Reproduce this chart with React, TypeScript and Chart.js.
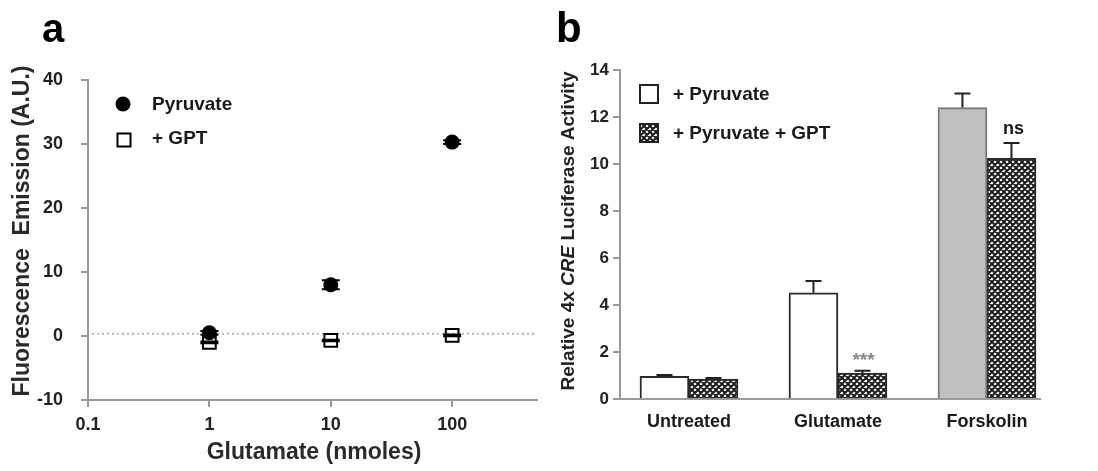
import React, { useEffect, useRef } from 'react';
import { Chart, registerables } from 'chart.js';
Chart.register(...registerables);

// ---------- Panel a data ----------
const dosesA = [1, 10, 100];
const pyruvateA = [0.5, 8.0, 30.3];
const pyruvateAErr = [0.3, 0.7, 0.3];
const gptA = [-1.0, -0.7, 0.1];
const gptAErr = [0.15, 0.12, 0.15];
const xTicksA = [0.1, 1, 10, 100];
const yTicksA = [-10, 0, 10, 20, 30, 40];
const baselineA = [0.35];

// ---------- Panel b data ----------
const categoriesB = ['Untreated', 'Glutamate', 'Forskolin'];
const pyruvateB = [0.97, 4.52, 12.4];
const pyruvateBErr = [0.05, 0.5, 0.6];
const gptB = [0.85, 1.1, 10.24];
const gptBErr = [0.04, 0.1, 0.65];
const significanceB = ['', '***', 'ns'];
const yTicksB = [0, 2, 4, 6, 8, 10, 12, 14];

const FONT = '"Liberation Sans", Arial, Helvetica, sans-serif';
const AXIS = '#9a9a9a';
const TEXT = '#1a1a1a';

const W = 1098;
const H = 471;
const A_W = 548;
const B_LEFT = 548;
const B_W = W - B_LEFT;

function makeHatch(): CanvasPattern | string {
  const c = document.createElement('canvas');
  c.width = 6;
  c.height = 6;
  const g = c.getContext('2d');
  if (!g) return '#555';
  g.fillStyle = '#ffffff';
  g.fillRect(0, 0, 6, 6);
  g.strokeStyle = '#1e1e1e';
  g.lineWidth = 2.0;
  g.beginPath();
  for (const k of [-6, 0, 6]) {
    g.moveTo(k, 0);
    g.lineTo(k + 6, 6);
    g.moveTo(k + 6, 0);
    g.lineTo(k, 6);
  }
  g.stroke();
  const p = g.createPattern(c, 'repeat');
  return p || '#555';
}

export default function App() {
  const refA = useRef<HTMLCanvasElement | null>(null);
  const refB = useRef<HTMLCanvasElement | null>(null);

  useEffect(() => {
    const hatch = makeHatch();

    // ---------------- Panel a ----------------
    const decorA = {
      id: 'decorA',
      beforeDatasetsDraw(chart: any) {
        const ctx = chart.ctx;
        const y = chart.scales.y;
        const yy = y.getPixelForValue(baselineA[0]);
        ctx.save();
        ctx.strokeStyle = '#b5b5b5';
        ctx.lineWidth = 2;
        ctx.setLineDash([2, 3]);
        ctx.beginPath();
        ctx.moveTo(chart.chartArea.left + 4, yy);
        ctx.lineTo(chart.chartArea.right, yy);
        ctx.stroke();
        ctx.restore();
      },
      afterDatasetsDraw(chart: any) {
        const ctx = chart.ctx;
        const x = chart.scales.x;
        const y = chart.scales.y;
        const drawErr = (vals: number[], errs: number[], color: string) => {
          vals.forEach((v, i) => {
            const px = x.getPixelForValue(dosesA[i]);
            const top = y.getPixelForValue(v + errs[i]);
            const bot = y.getPixelForValue(v - errs[i]);
            ctx.save();
            ctx.strokeStyle = color;
            ctx.lineWidth = 2;
            ctx.beginPath();
            ctx.moveTo(px, top);
            ctx.lineTo(px, bot);
            ctx.moveTo(px - 9, top);
            ctx.lineTo(px + 9, top);
            ctx.moveTo(px - 9, bot);
            ctx.lineTo(px + 9, bot);
            ctx.stroke();
            ctx.restore();
          });
        };
        drawErr(pyruvateA, pyruvateAErr, '#000');
        drawErr(gptA, gptAErr, '#000');
      },
      afterDraw(chart: any) {
        const ctx = chart.ctx;
        ctx.save();
        ctx.fillStyle = '#000';
        ctx.font = `bold 40px ${FONT}`;
        ctx.textBaseline = 'alphabetic';
        ctx.textAlign = 'left';
        ctx.fillText('a', 42, 42);
        // legend
        ctx.beginPath();
        ctx.arc(123, 104, 7.5, 0, Math.PI * 2);
        ctx.fillStyle = '#000';
        ctx.fill();
        ctx.fillStyle = '#fff';
        ctx.strokeStyle = '#000';
        ctx.lineWidth = 2;
        ctx.fillRect(117.5, 133.5, 13, 13);
        ctx.strokeRect(117.5, 133.5, 13, 13);
        ctx.fillStyle = TEXT;
        ctx.font = `bold 19px ${FONT}`;
        ctx.textBaseline = 'middle';
        ctx.fillText('Pyruvate', 152, 105);
        ctx.fillText('+ GPT', 152, 139);
        // x title
        ctx.textAlign = 'center';
        ctx.font = `bold 23px ${FONT}`;
        ctx.fillStyle = '#2a2a2a';
        ctx.fillText('Glutamate (nmoles)', 314, 453);
        // y title
        ctx.translate(23, 231);
        ctx.rotate(-Math.PI / 2);
        ctx.font = `bold 23px ${FONT}`;
        ctx.fillText('Fluorescence  Emission (A.U.)', 0, 0);
        ctx.restore();
      },
    };

    const chartA = new Chart(refA.current as HTMLCanvasElement, {
      type: 'scatter',
      data: {
        datasets: [
          {
            label: 'Pyruvate',
            data: dosesA.map((d, i) => ({ x: d, y: pyruvateA[i] })),
            pointStyle: 'circle',
            pointRadius: 7.5,
            backgroundColor: '#000',
            borderColor: '#000',
            borderWidth: 0,
          },
          {
            label: '+ GPT',
            data: dosesA.map((d, i) => ({ x: d, y: gptA[i] })),
            pointStyle: 'rect',
            pointRadius: 9,
            backgroundColor: 'rgba(255,255,255,0)',
            borderColor: '#000',
            borderWidth: 2,
          },
        ],
      },
      options: {
        responsive: false,
        animation: false,
        layout: { padding: { left: 0, right: 3, top: 80, bottom: 0 } },
        plugins: { legend: { display: false }, tooltip: { enabled: false } },
        scales: {
          x: {
            type: 'logarithmic',
            min: 0.1,
            max: 500,
            afterBuildTicks: (s: any) => {
              s.ticks = xTicksA.map((v) => ({ value: v }));
            },
            afterFit: (s: any) => {
              s.height = H - 400;
            },
            ticks: {
              autoSkip: false,
              maxRotation: 0,
              padding: 7,
              color: '#222',
              font: { family: FONT, size: 18, weight: 'bold' },
              callback: (v: any) => String(v),
            },
            grid: { drawOnChartArea: false, tickLength: 7, color: AXIS, lineWidth: 2 },
            border: { color: AXIS, width: 2 },
          },
          y: {
            min: -10,
            max: 40,
            afterBuildTicks: (s: any) => {
              s.ticks = yTicksA.map((v) => ({ value: v }));
            },
            afterFit: (s: any) => {
              s.width = 88;
            },
            ticks: {
              padding: 18,
              color: '#222',
              font: { family: FONT, size: 18, weight: 'bold' },
            },
            grid: { drawOnChartArea: false, tickLength: 7, color: AXIS, lineWidth: 2 },
            border: { color: AXIS, width: 2 },
          },
        },
      },
      plugins: [decorA],
    } as any);

    // ---------------- Panel b ----------------
    const decorB = {
      id: 'decorB',
      afterDatasetsDraw(chart: any) {
        const ctx = chart.ctx;
        const y = chart.scales.y;
        const sets = [
          { vals: pyruvateB, errs: pyruvateBErr },
          { vals: gptB, errs: gptBErr },
        ];
        sets.forEach((set, di) => {
          const meta = chart.getDatasetMeta(di);
          meta.data.forEach((bar: any, i: number) => {
            const px = bar.x;
            const base = y.getPixelForValue(set.vals[i]);
            const top = y.getPixelForValue(set.vals[i] + set.errs[i]);
            ctx.save();
            ctx.strokeStyle = '#222';
            ctx.lineWidth = 2;
            ctx.beginPath();
            ctx.moveTo(px, base);
            ctx.lineTo(px, top);
            ctx.moveTo(px - 8, top);
            ctx.lineTo(px + 8, top);
            ctx.stroke();
            ctx.restore();
            if (di === 1 && significanceB[i]) {
              ctx.save();
              ctx.textAlign = 'center';
              ctx.textBaseline = 'middle';
              if (significanceB[i] === 'ns') {
                ctx.fillStyle = '#1a1a1a';
                ctx.font = `bold 18px ${FONT}`;
                ctx.fillText('ns', px + 2, top - 14);
              } else {
                ctx.fillStyle = '#8a8a8a';
                ctx.font = `bold 19px ${FONT}`;
                ctx.fillText(significanceB[i], px + 1, top - 10);
              }
              ctx.restore();
            }
          });
        });
      },
      afterDraw(chart: any) {
        const ctx = chart.ctx;
        const ox = -B_LEFT;
        ctx.save();
        ctx.fillStyle = '#000';
        ctx.font = `bold 42px ${FONT}`;
        ctx.textAlign = 'left';
        ctx.textBaseline = 'alphabetic';
        ctx.fillText('b', 556 + ox, 42);
        // legend
        ctx.lineWidth = 2;
        ctx.strokeStyle = '#222';
        ctx.fillStyle = '#fff';
        ctx.fillRect(640 + ox, 85, 18, 18);
        ctx.strokeRect(640 + ox, 85, 18, 18);
        ctx.fillStyle = hatch as any;
        ctx.fillRect(640 + ox, 124, 18, 18);
        ctx.strokeRect(640 + ox, 124, 18, 18);
        ctx.fillStyle = TEXT;
        ctx.font = `bold 19px ${FONT}`;
        ctx.textBaseline = 'middle';
        ctx.fillText('+ Pyruvate', 673 + ox, 95);
        ctx.fillText('+ Pyruvate + GPT', 673 + ox, 134);
        // y title with italic CRE
        ctx.translate(569 + ox, 231);
        ctx.rotate(-Math.PI / 2);
        const segs = [
          { t: 'Relative 4x ', f: `bold 19px ${FONT}` },
          { t: 'CRE', f: `italic bold 19px ${FONT}` },
          { t: ' Luciferase Activity', f: `bold 19px ${FONT}` },
        ];
        let total = 0;
        segs.forEach((s) => {
          ctx.font = s.f;
          total += ctx.measureText(s.t).width;
        });
        let cx = -total / 2;
        ctx.textAlign = 'left';
        ctx.fillStyle = '#222';
        segs.forEach((s) => {
          ctx.font = s.f;
          ctx.fillText(s.t, cx, 0);
          cx += ctx.measureText(s.t).width;
        });
        ctx.restore();
      },
    };

    const chartB = new Chart(refB.current as HTMLCanvasElement, {
      type: 'bar',
      data: {
        datasets: [
          {
            label: '+ Pyruvate',
            data: pyruvateB.map((v, i) => ({ x: i, y: v })),
            backgroundColor: ['#ffffff', '#ffffff', '#c0c0c0'],
            borderColor: ['#2a2a2a', '#2a2a2a', '#7a7a7a'],
            borderWidth: 2,
            barThickness: 49,
          },
          {
            label: '+ Pyruvate + GPT',
            data: gptB.map((v, i) => ({ x: i, y: v })),
            backgroundColor: hatch as any,
            borderColor: '#2a2a2a',
            borderWidth: 2,
            barThickness: 49,
          },
        ],
      },
      options: {
        responsive: false,
        animation: false,
        layout: { padding: { left: 0, right: B_W - (1040 - B_LEFT), top: 70, bottom: 0 } },
        plugins: { legend: { display: false }, tooltip: { enabled: false } },
        scales: {
          x: {
            type: 'linear',
            offset: false,
            min: -0.463,
            max: 2.356,
            afterBuildTicks: (s: any) => {
              s.ticks = categoriesB.map((_, i) => ({ value: i }));
            },
            afterFit: (s: any) => {
              s.height = H - 399;
            },
            ticks: {
              autoSkip: false,
              maxRotation: 0,
              padding: 12,
              color: '#1a1a1a',
              font: { family: FONT, size: 18, weight: 'bold' },
              callback: (v: any) => categoriesB[Math.round(v)] ?? '',
            },
            grid: { drawOnChartArea: false, drawTicks: false, offset: false },
            border: { color: AXIS, width: 2 },
          },
          y: {
            min: 0,
            max: 14,
            afterBuildTicks: (s: any) => {
              s.ticks = yTicksB.map((v) => ({ value: v }));
            },
            afterFit: (s: any) => {
              s.width = 620 - B_LEFT;
            },
            ticks: {
              padding: 4,
              color: '#222',
              font: { family: FONT, size: 17, weight: 'bold' },
            },
            grid: { drawOnChartArea: false, tickLength: 7, color: AXIS, lineWidth: 2 },
            border: { color: AXIS, width: 2 },
          },
        },
      },
      plugins: [decorB],
    } as any);

    return () => {
      chartA.destroy();
      chartB.destroy();
    };
  }, []);

  return (
    <div
      style={{
        position: 'fixed',
        left: 0,
        top: 0,
        width: W,
        height: H,
        background: '#fff',
        overflow: 'hidden',
      }}
    >
      <canvas
        ref={refA}
        width={A_W}
        height={H}
        style={{ position: 'absolute', left: 0, top: 0, width: A_W, height: H }}
      />
      <canvas
        ref={refB}
        width={B_W}
        height={H}
        style={{ position: 'absolute', left: B_LEFT, top: 0, width: B_W, height: H }}
      />
    </div>
  );
}
